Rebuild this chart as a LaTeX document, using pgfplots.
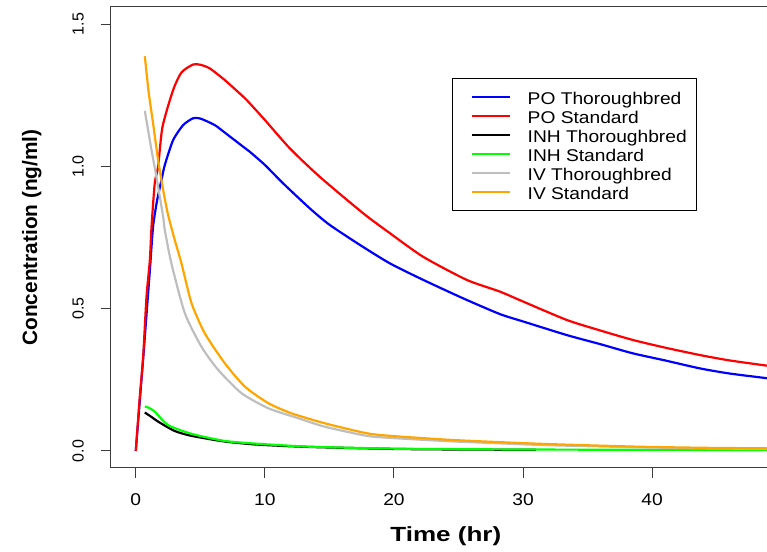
\documentclass[border=0pt]{standalone}
\usepackage{pgfplots}
\pgfplotsset{compat=1.18}
\usepackage{fontspec}
\setmainfont{Liberation Sans}
\newfontfamily\tickfont[FakeStretch=1.13]{Liberation Sans}
\newfontfamily\xlabfont[FakeStretch=1.27]{Liberation Sans}
\newfontfamily\ylabfont{Liberation Sans}
\definecolor{ivgray}{RGB}{190,190,190}
\definecolor{ivorange}{RGB}{255,165,0}
\definecolor{inhgreen}{RGB}{0,255,0}
\definecolor{framecol}{RGB}{60,60,60}
\begin{document}
\begin{tikzpicture}
\begin{axis}[
  scale only axis, width=656pt, height=461pt,
  xmin=-1.92, xmax=48.9, ymin=-0.06, ymax=1.56,
  axis line style={draw=none},
  xtick={0,10,20,30,40}, ytick={0,0.5,1,1.5}, yticklabels={0.0,0.5,1.0,1.5},
  tick align=outside, tick pos=left,
  major tick length=10pt, tick style={framecol, line width=1pt},
  /pgf/number format/assume math mode=true,
  xticklabel style={font=\tickfont\fontsize{17}{17}\selectfont, inner sep=0pt, anchor=north},
  yticklabel style={font=\fontsize{16}{16}\selectfont, rotate=90, inner sep=0pt, anchor=south},
  xticklabel shift=15pt, yticklabel shift=17pt,
  xlabel={Time (hr)}, ylabel={Concentration (ng/ml)},
  xlabel style={font=\xlabfont\bfseries\fontsize{20.5}{20.5}\selectfont, at={(axis description cs:0.5104,-0.1599)}, anchor=base},
  ylabel style={font=\ylabfont\bfseries\fontsize{20.8}{20.8}\selectfont, at={(axis description cs:-0.1125,0.5)}, anchor=base},
  legend style={at={(0.5198,0.846)}, anchor=north west, draw=black, line width=1pt,
    inner xsep=10pt, inner ysep=9.2pt, font=\tickfont\fontsize{17}{17}\selectfont,
    cells={anchor=west}, nodes={inner sep=0pt, text height=17pt, text depth=2pt},
    row sep=0pt, column sep=17pt},
  legend image code/.code={\path (0pt,0pt); \draw[#1] (8pt,0pt) -- (46pt,0pt);},
  line join=round,
  every axis plot/.append style={smooth, tension=0.4},
]
\addplot[blue, line width=2.2pt] table {
0 0
0.3 0.17
0.6 0.34
0.9 0.52
1.1 0.64
1.34 0.788
1.65 0.88
1.99 0.952
2.25 1.005
2.89 1.092
3.67 1.145
4.44 1.169
5.0 1.168
6.12 1.145
7.0 1.115
8.32 1.069
8.84 1.051
10 1.005
11.42 0.94
13.49 0.852
15 0.795
17.36 0.724
19.69 0.659
22.27 0.601
25.37 0.536
28.2 0.481
30 0.455
33.4 0.407
36 0.375
38.5 0.343
41 0.318
43.7 0.29
46 0.272
49 0.255
};
\addlegendentry{PO Thoroughbred}
\addplot[red, line width=2.2pt] table {
0 0
0.31 0.19
0.57 0.331
0.83 0.542
1.09 0.671
1.22 0.788
1.47 0.941
1.73 0.999
2.07 1.139
2.89 1.268
3.54 1.33
4.44 1.358
5.0 1.357
5.74 1.344
6.9 1.303
8.32 1.245
8.84 1.221
10 1.163
11.94 1.063
14.26 0.963
17.62 0.835
19.69 0.765
22.27 0.682
25.64 0.601
28.2 0.56
30 0.525
33.4 0.46
36 0.423
38.5 0.39
41 0.363
43.7 0.337
46 0.318
49 0.299
};
\addlegendentry{PO Standard}
\addplot[black, line width=2.2pt] table {
0.7 0.135
1.2 0.12
1.73 0.103
3.02 0.07
4.32 0.053
6.9 0.033
9.5 0.022
13.4 0.014
20 0.007
25 0.005
31 0.004
};
\addlegendentry{INH Thoroughbred}
\addplot[inhgreen, line width=2.2pt] table {
0.7 0.156
1.0 0.152
1.47 0.138
2.5 0.091
4.32 0.06
6.9 0.035
9.5 0.025
13.4 0.015
20 0.008
30 0.005
40 0.004
49 0.003
};
\addlegendentry{INH Standard}
\addplot[ivgray, line width=2.2pt] table {
0.7 1.195
1.22 1.057
1.6 0.963
2.12 0.823
2.25 0.776
2.76 0.659
3.8 0.484
5.09 0.366
6.38 0.285
8.19 0.203
10.26 0.15
12.58 0.115
14.65 0.085
17.9 0.053
20 0.045
24.3 0.034
28 0.027
32 0.02
38.8 0.013
44 0.009
49 0.007
};
\addlegendentry{IV Thoroughbred}
\addplot[ivorange, line width=2.2pt] table {
0.7 1.387
1.0 1.26
1.34 1.151
1.73 1.022
2.12 0.917
2.5 0.83
3.02 0.741
3.54 0.659
4.32 0.519
5.35 0.413
6.9 0.308
8.45 0.226
10.26 0.168
12.07 0.132
14.65 0.097
17.9 0.062
20 0.052
24.3 0.039
28.1 0.031
32 0.024
38.8 0.015
44 0.011
49 0.009
};
\addlegendentry{IV Standard}
\end{axis}
\draw[framecol, line width=1pt] (current axis.north east) -- (current axis.north west) -- (current axis.south west) -- (current axis.south east);
\pgfresetboundingbox
\path ([xshift=-111pt,yshift=-84pt]current axis.south west) rectangle ([yshift=7pt]current axis.north east);
\end{tikzpicture}
\end{document}
